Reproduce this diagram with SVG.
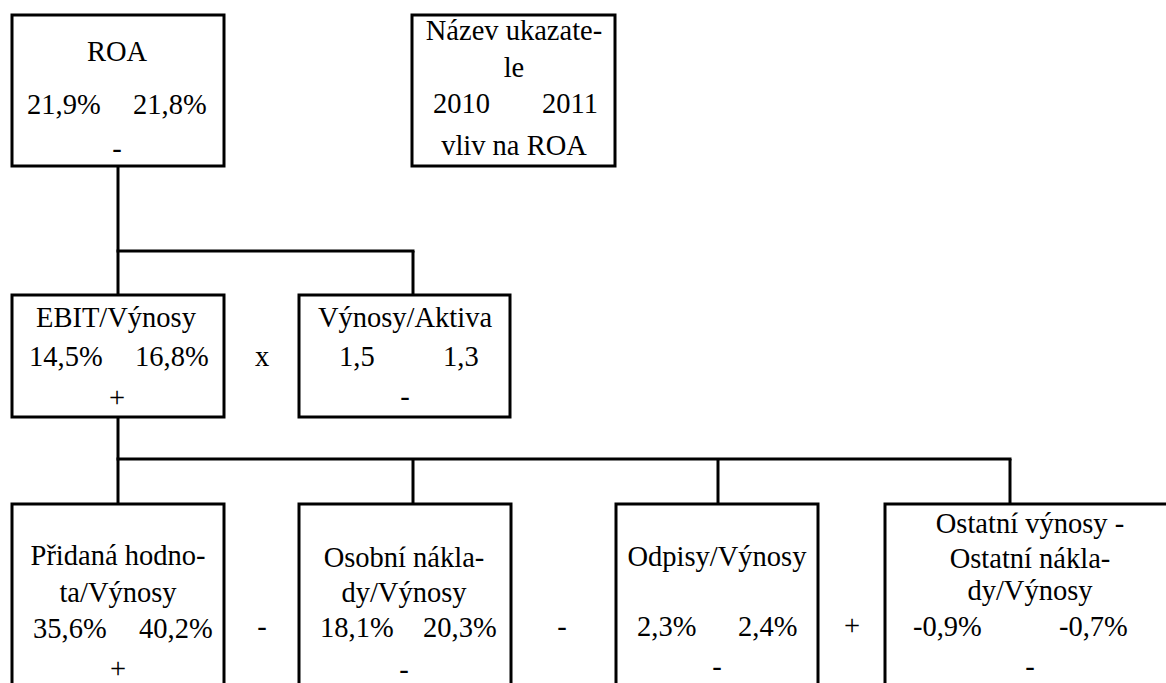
<svg xmlns="http://www.w3.org/2000/svg" width="1166" height="683" viewBox="0 0 1166 683" font-family="'Liberation Serif', 'Times New Roman', 'DejaVu Serif', serif" font-size="28.5">
<style>
rect.box{fill:#fff;stroke:#000;stroke-width:3}
.conn line{stroke:#000;stroke-width:3}
text{font-family:'Liberation Serif','Times New Roman',serif;font-size:28.5px;fill:#000}
.c{text-anchor:middle}
</style>
<rect width="1166" height="683" fill="#fff"/>
<g id="connectors" class="conn">
<line x1="118" y1="166" x2="118" y2="296"/>
<line x1="116.5" y1="251" x2="414.5" y2="251"/>
<line x1="413" y1="251" x2="413" y2="296"/>
<line x1="118" y1="417" x2="118" y2="504"/>
<line x1="116.5" y1="459" x2="1011.5" y2="459"/>
<line x1="413" y1="459" x2="413" y2="504"/>
<line x1="718" y1="459" x2="718" y2="504"/>
<line x1="1010" y1="459" x2="1010" y2="504"/>
</g>
<g id="roa">
<rect class="box" x="12" y="15" width="212" height="151"/>
<text class="c" x="117" y="61">ROA</text>
<text x="27" y="114">21,9%</text>
<text x="133" y="114">21,8%</text>
<text class="c" x="117" y="158">-</text>
</g>
<g id="legend">
<rect class="box" x="412" y="15" width="203" height="151"/>
<text class="c" x="514" y="40">Název ukazate-</text>
<text class="c" x="514" y="77">le</text>
<text x="433" y="113">2010</text>
<text x="542" y="113">2011</text>
<text class="c" x="514" y="155">vliv na ROA</text>
</g>
<g id="ebit">
<rect class="box" x="12" y="295" width="212" height="122"/>
<text class="c" x="116" y="327">EBIT/Výnosy</text>
<text x="29" y="366">14,5%</text>
<text x="135" y="366">16,8%</text>
<text class="c" x="117" y="407">+</text>
</g>
<g id="op-x"><text class="c" x="262" y="366">x</text></g>
<g id="vynosy-aktiva">
<rect class="box" x="299" y="295" width="211" height="122"/>
<text class="c" x="405" y="327">Výnosy/Aktiva</text>
<text x="339" y="366">1,5</text>
<text x="443" y="366">1,3</text>
<text class="c" x="405" y="406">-</text>
</g>
<g id="pridana">
<rect class="box" x="12" y="504" width="212" height="200"/>
<text class="c" x="118" y="565">Přidaná hodno-</text>
<text class="c" x="118" y="602">ta/Výnosy</text>
<text x="33" y="638">35,6%</text>
<text x="139" y="638">40,2%</text>
<text class="c" x="118" y="678">+</text>
</g>
<g id="op1"><text class="c" x="262" y="636">-</text></g>
<g id="osobni">
<rect class="box" x="299" y="504" width="212" height="200"/>
<text class="c" x="404" y="567">Osobní nákla-</text>
<text class="c" x="404" y="602">dy/Výnosy</text>
<text x="320" y="637">18,1%</text>
<text x="423" y="637">20,3%</text>
<text class="c" x="404" y="679">-</text>
</g>
<g id="op2"><text class="c" x="562" y="636">-</text></g>
<g id="odpisy">
<rect class="box" x="616" y="504" width="202" height="200"/>
<text class="c" x="717" y="566">Odpisy/Výnosy</text>
<text x="637" y="636">2,3%</text>
<text x="738" y="636">2,4%</text>
<text class="c" x="717" y="676">-</text>
</g>
<g id="op3"><text class="c" x="852" y="635">+</text></g>
<g id="ostatni">
<rect class="box" x="885" y="504" width="300" height="200"/>
<text class="c" x="1030" y="533">Ostatní výnosy -</text>
<text class="c" x="1030" y="568">Ostatní nákla-</text>
<text class="c" x="1030" y="600">dy/Výnosy</text>
<text x="913" y="636">-0,9%</text>
<text x="1059" y="636">-0,7%</text>
<text class="c" x="1030" y="676">-</text>
</g>
</svg>
